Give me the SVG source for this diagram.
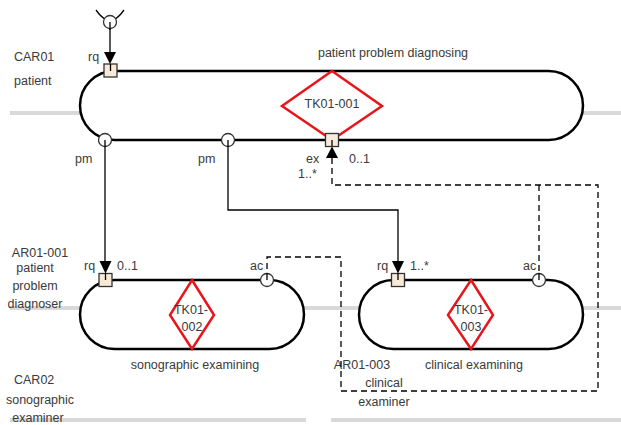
<svg xmlns="http://www.w3.org/2000/svg" width="621" height="425" viewBox="0 0 621 425">
<defs>
<style>
text{font-family:"Liberation Sans",Arial,sans-serif;font-size:12.5px;fill:#3a3a3a}
.lane{stroke:#d9d9d9;stroke-width:4;fill:none}
.st{fill:#fff;stroke:#000;stroke-width:2.5}
.dia{fill:none;stroke:#e8161b;stroke-width:2.5}
.sq{fill:#f8ead8;stroke:#333;stroke-width:1.3}
.ci{fill:#fff;stroke:#333;stroke-width:1.3}
.ln{fill:none;stroke:#000;stroke-width:1.3}
.ds{fill:none;stroke:#000;stroke-width:1.3;stroke-dasharray:6,4}
.mid{text-anchor:middle}
</style>
</defs>
<g id="lanes">
<line class="lane" x1="10" y1="113" x2="90" y2="113"/>
<line class="lane" x1="575" y1="113" x2="621" y2="113"/>
<line class="lane" x1="10" y1="308" x2="90" y2="308"/>
<line class="lane" x1="295" y1="308" x2="365" y2="308"/>
<line class="lane" x1="575" y1="308" x2="621" y2="308"/>
<line class="lane" x1="10" y1="420" x2="306" y2="420"/>
<line class="lane" x1="331" y1="420" x2="621" y2="420"/>
</g>
<g id="actor-labels">
<text x="14" y="61">CAR01</text>
<text x="14" y="85">patient</text>
<text x="40" y="257" class="mid">AR01-001</text>
<text x="35" y="272" class="mid">patient</text>
<text x="35" y="290" class="mid">problem</text>
<text x="35" y="308" class="mid">diagnoser</text>
<text x="14" y="384">CAR02</text>
<text x="40" y="404" class="mid">sonographic</text>
<text x="38" y="422" class="mid">examiner</text>
<text x="362" y="369" class="mid">AR01-003</text>
<text x="384" y="387" class="mid">clinical</text>
<text x="384" y="406" class="mid">examiner</text>
</g>
<g id="TK01-001">
<rect class="st" x="80" y="71" width="503" height="69" rx="34.5"/>
<polygon class="dia" points="332,71 382,106 332,140 282,106"/>
<text x="332" y="108" class="mid">TK01-001</text>
<text x="393" y="57" class="mid">patient problem diagnosing</text>
</g>
<g id="TK01-002">
<rect class="st" x="80" y="280" width="224" height="69" rx="34.5"/>
<polygon class="dia" points="192,280 214,315 192,349 170,315"/>
<text x="191" y="314" class="mid">TK01-</text>
<text x="192" y="331" class="mid">002</text>
<text x="195" y="369" class="mid">sonographic examining</text>
</g>
<g id="TK01-003">
<rect class="st" x="359" y="280" width="224" height="69" rx="34.5"/>
<polygon class="dia" points="471,280 493,315 471,349 448,315"/>
<text x="471" y="314" class="mid">TK01-</text>
<text x="471" y="331" class="mid">003</text>
<text x="474" y="369" class="mid">clinical examining</text>
</g>
<g id="connectors">
<path class="ln" d="M96,10 Q101,17 105,19"/>
<path class="ln" d="M124,10 Q119,17 115,19"/>
<line class="ln" x1="110" y1="22" x2="110" y2="54"/>
<line class="ln" x1="105" y1="140" x2="105" y2="268"/>
<path class="ln" d="M228,140 V210 H398 V268"/>
<path class="ds" d="M332,158 V185 H598 V391 H341 V257 H267 V280"/>
<path class="ds" d="M539,185 V280"/>
</g>
<g id="ports">
<circle class="ci" cx="110" cy="22" r="6.5"/>
<line class="ln" x1="110" y1="22" x2="110" y2="30"/>
<rect class="sq" x="104" y="64" width="13" height="13"/>
<line class="ln" x1="110.5" y1="64" x2="110.5" y2="71"/>
<polygon points="104,52 116,52 110,64" fill="#000"/>
<rect class="sq" x="325.5" y="133.5" width="13" height="13"/>
<line class="ln" x1="332" y1="146" x2="332" y2="140"/>
<polygon points="326,158 338,158 332,146.5" fill="#000"/>
<circle class="ci" cx="105" cy="140" r="6.5"/>
<line class="ln" x1="105" y1="140" x2="105" y2="147"/>
<circle class="ci" cx="228" cy="140" r="6.5"/>
<line class="ln" x1="228" y1="140" x2="228" y2="147"/>
<rect class="sq" x="99" y="273.5" width="13" height="13"/>
<line class="ln" x1="105.5" y1="273" x2="105.5" y2="280"/>
<polygon points="99.5,261 111.5,261 105.5,273.5" fill="#000"/>
<rect class="sq" x="391.5" y="273.5" width="13" height="13"/>
<line class="ln" x1="398" y1="273" x2="398" y2="280"/>
<polygon points="392,261 404,261 398,273.5" fill="#000"/>
<circle class="ci" cx="267" cy="280" r="6.5"/>
<line class="ln" x1="267" y1="273" x2="267" y2="280"/>
<circle class="ci" cx="539" cy="280" r="6.5"/>
<line class="ln" x1="539" y1="273" x2="539" y2="280"/>
</g>
<g id="port-labels">
<text x="88" y="61">rq</text>
<text x="75" y="163">pm</text>
<text x="198" y="163">pm</text>
<text x="306" y="163">ex</text>
<text x="349" y="163">0..1</text>
<text x="298" y="178">1..*</text>
<text x="84" y="270">rq</text>
<text x="117" y="270">0..1</text>
<text x="250" y="270">ac</text>
<text x="377" y="270">rq</text>
<text x="410" y="270">1..*</text>
<text x="523" y="270">ac</text>
</g>
</svg>
